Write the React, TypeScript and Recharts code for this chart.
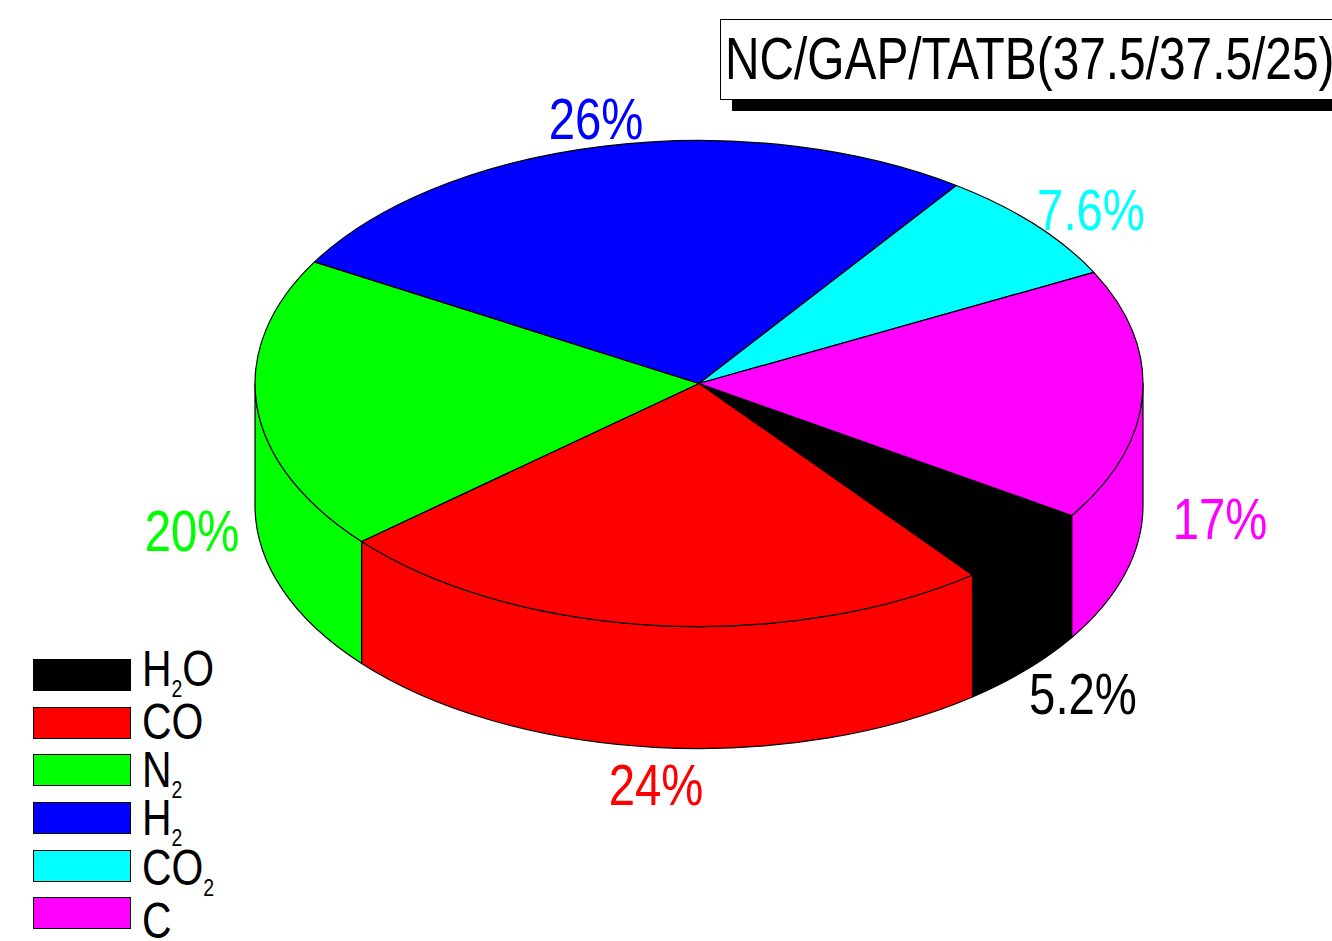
import { PieChart, Pie, Legend } from 'recharts';

const gases = ['H2O', 'CO', 'N2', 'H2', 'CO2', 'C'];
const shares = [5.3, 24.3, 19.6, 26.5, 7.6, 16.7]; // measured from the slice edges
const printed = ['5.2%', '24%', '20%', '26%', '7.6%', '17%'];
const colors = ['#000000', '#FF0000', '#00FF00', '#0000FF', '#00FFFF', '#FF00FF'];
const title = 'NC/GAP/TATB(37.5/37.5/25)';

const data = gases.map((name, i) => ({ name, value: shares[i], fill: colors[i] }));

const WIDTH = 1332;
const HEIGHT = 941;
const FONT = '"Liberation Sans", Arial, sans-serif';
const NARROW = 0.83; // the original type is condensed
const SQUASH = 243 / 444; // tilt of the disc
const DEPTH = 122;

// where each percentage sits (centre x, baseline y), same order as gases
const labelSpots = [
  [1083, 714],
  [656, 805],
  [192, 551],
  [596, 139],
  [1091, 230],
  [1220, 539],
];
const legendBoxes = [659, 707, 754, 802, 850, 897];
const legendBaselines = [686, 739, 787, 835, 885, 938];

const point = (p: any, deg: number, drop = 0) => {
  const rad = (deg * Math.PI) / 180;
  return [
    p.cx + p.outerRadius * Math.cos(rad),
    p.cy + p.outerRadius * SQUASH * Math.sin(rad) + drop,
  ];
};

const arc = (p: any, to: number[], sweep: number, large = 0) =>
  `A${p.outerRadius} ${p.outerRadius * SQUASH} 0 ${large} ${sweep} ${to[0]} ${to[1]}`;

function TopSlice(p: any) {
  const a = -p.startAngle;
  const b = -p.endAngle;
  const s = point(p, a);
  const e = point(p, b);
  const d = `M${p.cx} ${p.cy}L${s[0]} ${s[1]}${arc(p, e, 1, b - a > 180 ? 1 : 0)}Z`;
  return <path d={d} fill={p.fill} stroke="#000" strokeWidth={1.2} strokeLinejoin="round" />;
}

function WallSlice(p: any) {
  const a = -p.startAngle;
  const b = -p.endAngle;
  const parts: any[] = [];
  // only the front half of the rim is visible
  [[0, 180], [360, 540]].forEach(([lo, hi]) => {
    const t0 = Math.max(a, lo);
    const t1 = Math.min(b, hi);
    if (t1 <= t0) return;
    const s = point(p, t0);
    const e = point(p, t1);
    const s2 = point(p, t0, DEPTH);
    const e2 = point(p, t1, DEPTH);
    const d = `M${s[0]} ${s[1]}${arc(p, e, 1)}L${e2[0]} ${e2[1]}${arc(p, s2, 0)}Z`;
    parts.push(<path key={lo} d={d} fill={p.fill} stroke="#000" strokeWidth={1.2} strokeLinejoin="round" />);
  });
  return <g>{parts}</g>;
}

function SliceLabel(p: any) {
  const [x, y] = labelSpots[p.index];
  return (
    <text
      transform={`translate(${x} ${y}) scale(${NARROW} 1)`}
      textAnchor="middle"
      fontFamily={FONT}
      fontSize={57}
      fill={colors[p.index]}
    >
      {printed[p.index]}
    </text>
  );
}

function GasName({ name, x, y }: { name: string; x: number; y: number }) {
  const parts = name.match(/[A-Z]|\d/g) || [];
  const merged = name.startsWith('CO') ? ['CO', ...parts.slice(2)] : parts;
  let low = false;
  return (
    <text transform={`translate(${x} ${y}) scale(0.81 1)`} fontFamily={FONT} fontSize={50.5} fill="#000">
      {merged.map((t, i) => {
        const digit = /\d/.test(t);
        const dy = digit ? 11 : low ? -11 : 0;
        low = digit;
        return (
          <tspan key={i} dy={dy} fontSize={digit ? 24 : 50.5}>
            {t}
          </tspan>
        );
      })}
    </text>
  );
}

function GasLegend() {
  return (
    <svg width={WIDTH} height={HEIGHT} style={{ display: 'block' }}>
      {gases.map((g, i) => (
        <g key={g}>
          <rect x={33.5} y={legendBoxes[i] + 0.5} width={97} height={31} fill={colors[i]} stroke="#000" strokeWidth={1} />
          <GasName name={g} x={142} y={legendBaselines[i]} />
        </g>
      ))}
    </svg>
  );
}

export default function App() {
  return (
    <div style={{ position: 'absolute', left: 0, top: 0, width: WIDTH, height: HEIGHT, background: '#fff', overflow: 'hidden' }}>
      <PieChart width={WIDTH} height={HEIGHT} margin={{ top: 0, right: 0, bottom: 0, left: 0 }}>
        <Pie
          data={data}
          dataKey="value"
          nameKey="name"
          cx={699}
          cy={383.5}
          outerRadius={444}
          startAngle={-32.9}
          endAngle={-392.9}
          paddingAngle={0}
          legendType="none"
          shape={WallSlice}
          isAnimationActive={false}
        />
        <Pie
          data={data}
          dataKey="value"
          nameKey="name"
          cx={699}
          cy={383.5}
          outerRadius={444}
          startAngle={-32.9}
          endAngle={-392.9}
          paddingAngle={0}
          shape={TopSlice}
          label={SliceLabel}
          labelLine={false}
          isAnimationActive={false}
        />
        <Legend content={GasLegend} wrapperStyle={{ position: 'absolute', left: 0, top: 0, width: WIDTH, height: HEIGHT, pointerEvents: 'none' }} />
      </PieChart>
      <svg width={WIDTH} height={120} style={{ position: 'absolute', left: 0, top: 0 }}>
        <rect x={732} y={30} width={600} height={81} fill="#000" />
        <rect x={720.5} y={19.5} width={612} height={80} fill="#fff" stroke="#000" strokeWidth={1} />
        <text transform="translate(725 79) scale(0.797 1)" fontFamily={FONT} fontSize={60} fill="#000">
          {title}
        </text>
      </svg>
    </div>
  );
}
